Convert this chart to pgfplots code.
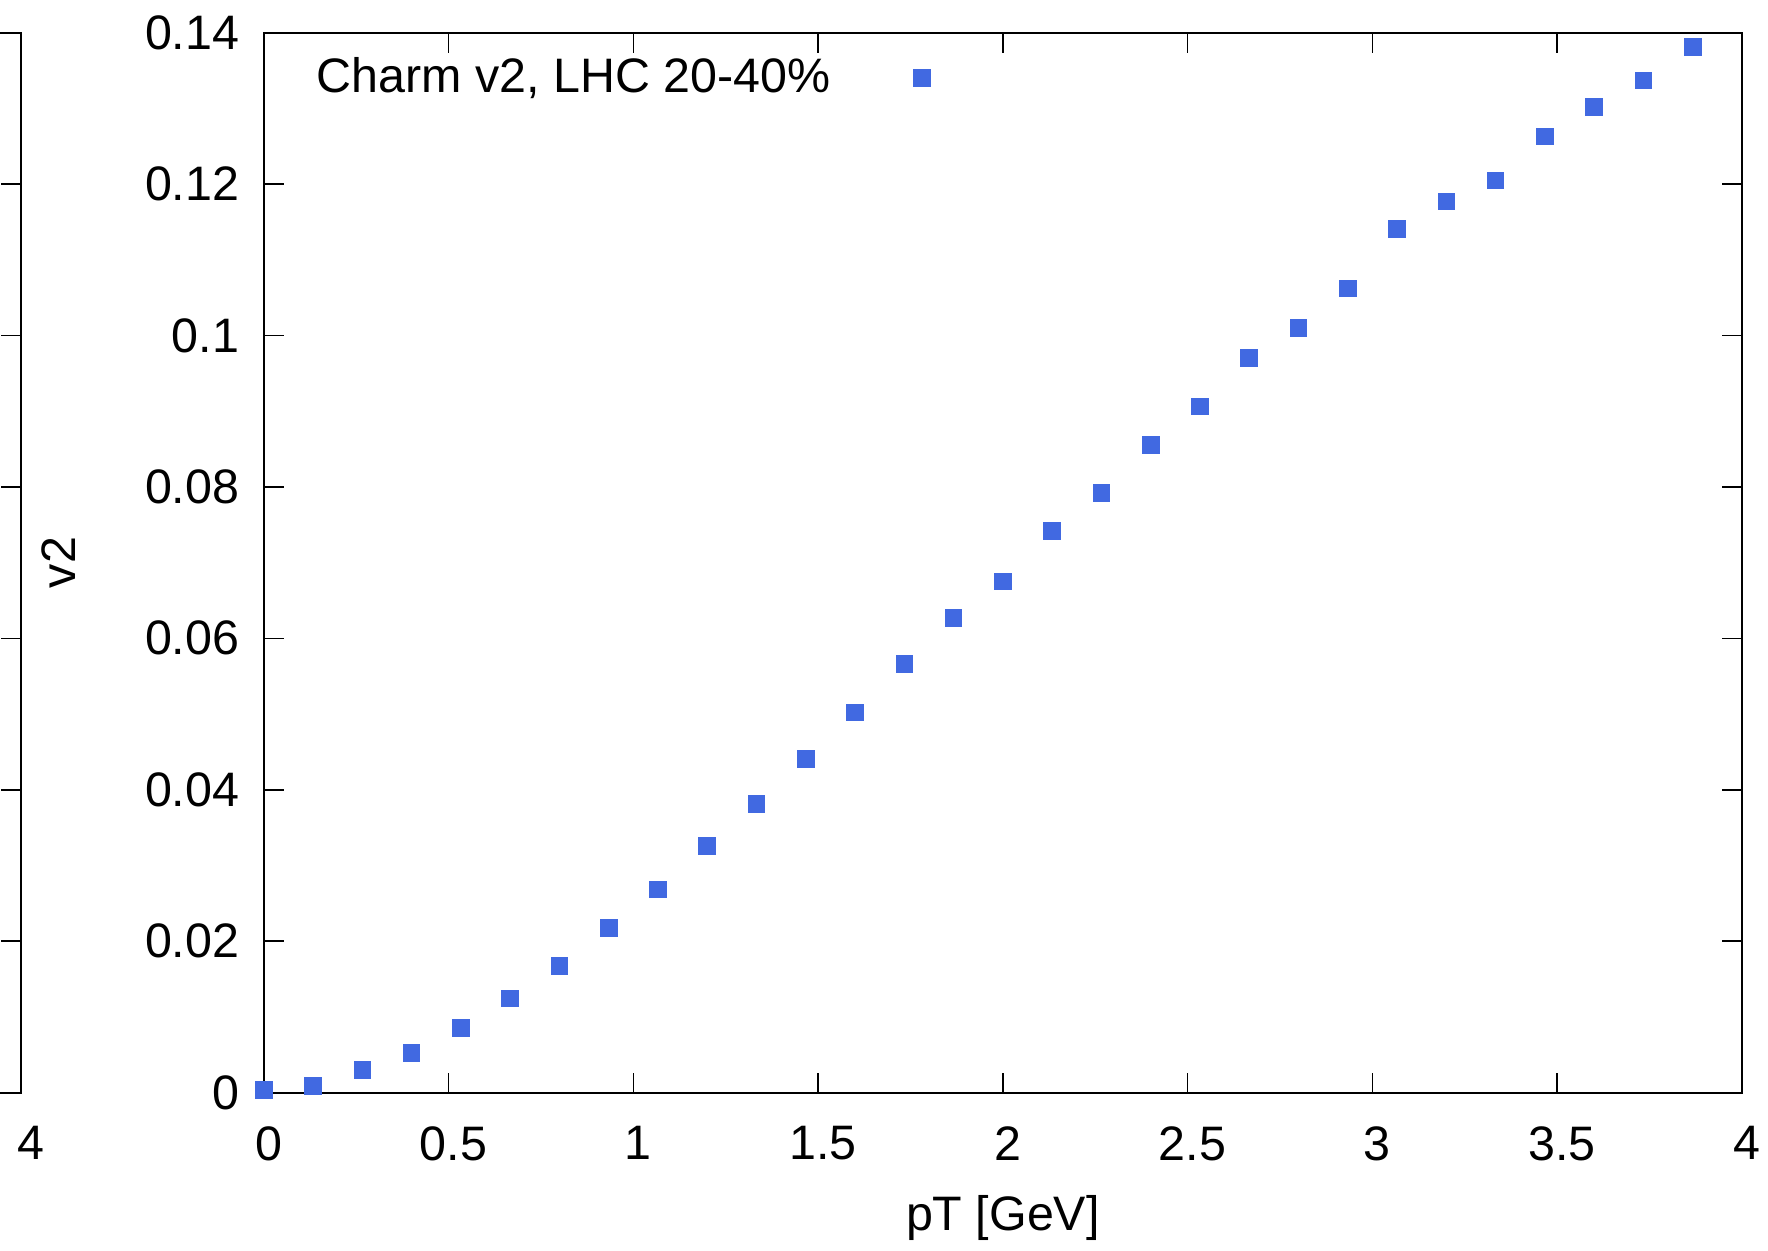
\documentclass[border=0pt]{standalone}
\usepackage{fontspec}
\setmainfont{Liberation Sans}
\usepackage{pgfplots}
\pgfplotsset{compat=1.18}
\usetikzlibrary{calc}
\definecolor{royal}{RGB}{65,105,225}
\newcommand{\gfont}{\fontsize{12.1}{14.5}\selectfont}
\begin{document}
\begin{tikzpicture}
\begin{axis}[
  name=main,
  scale only axis,
  width=369.6pt, height=265pt,
  xmin=0, xmax=4, ymin=0, ymax=0.14,
  xtick={0,0.5,...,4},
  ytick={0,0.02,0.04,0.06,0.08,0.1,0.12,0.14},
  scaled y ticks=false,
  yticklabel style={/pgf/number format/fixed, /pgf/number format/precision=2, xshift=-2.6pt},
  xticklabel style={yshift=-5pt, xshift=1.2pt},
  /pgf/number format/assume math mode=true,
  tick label style={font=\gfont},
  label style={font=\gfont},
  major tick length=5pt,
  axis line style={line width=0.5pt},
  tick style={line width=0.4pt, black},
  xlabel={pT [GeV]},
  ylabel={v2},
  xlabel style={at={(axis description cs:0.5,-0.1185)}, anchor=center},
  ylabel style={at={(axis description cs:-0.1385,0.5)}, anchor=center},
  legend plot pos=right,
  legend style={at={(axis description cs:0,1)}, anchor=north west, draw=none, fill=none,
    font=\gfont, xshift=8.0pt, yshift=-1.95pt, column sep=18.9pt},
  legend cell align=left,
]
\addplot[only marks, mark=square*, mark size=2pt, color=royal, mark options={draw=royal, fill=royal}]
coordinates {
(0.0000,0.0003) (0.1333,0.0009) (0.2667,0.0030) (0.4000,0.0052) (0.5333,0.0085)
(0.6667,0.0124) (0.8000,0.0167) (0.9333,0.0217) (1.0667,0.0268) (1.2000,0.0326)
(1.3333,0.0381) (1.4667,0.0441) (1.6000,0.0502) (1.7333,0.0566) (1.8667,0.0627)
(2.0000,0.0675) (2.1333,0.0742) (2.2667,0.0792) (2.4000,0.0855) (2.5333,0.0906)
(2.6667,0.0970) (2.8000,0.1010) (2.9333,0.1062) (3.0667,0.1141) (3.2000,0.1177)
(3.3333,0.1205) (3.4667,0.1263) (3.6000,0.1302) (3.7333,0.1337) (3.8667,0.1381)
};
\addlegendentry{Charm v2, LHC 20-40\%}
\end{axis}
\begin{axis}[
  overlay,
  at={($(main.south west)+(-60.75pt,0)$)}, anchor=south east,
  scale only axis,
  width=369.6pt, height=265pt,
  xmin=0, xmax=4, ymin=0, ymax=0.14,
  xtick={0,0.5,...,4},
  xticklabels={,,,,,,,,4},
  ytick={0,0.02,0.04,0.06,0.08,0.1,0.12,0.14},
  yticklabels={},
  xticklabel style={yshift=-5pt, xshift=2.5pt},
  /pgf/number format/assume math mode=true,
  tick label style={font=\gfont},
  major tick length=5pt,
  axis line style={line width=0.5pt},
  tick style={line width=0.4pt, black},
]
\addplot[draw=none] coordinates {(0,0)};
\end{axis}
\pgfresetboundingbox
\path[use as bounding box] ($(main.south west)+(-65.96pt,-39.6pt)$) rectangle ($(main.north east)+(6.5pt,8.18pt)$);
\end{tikzpicture}
\end{document}
